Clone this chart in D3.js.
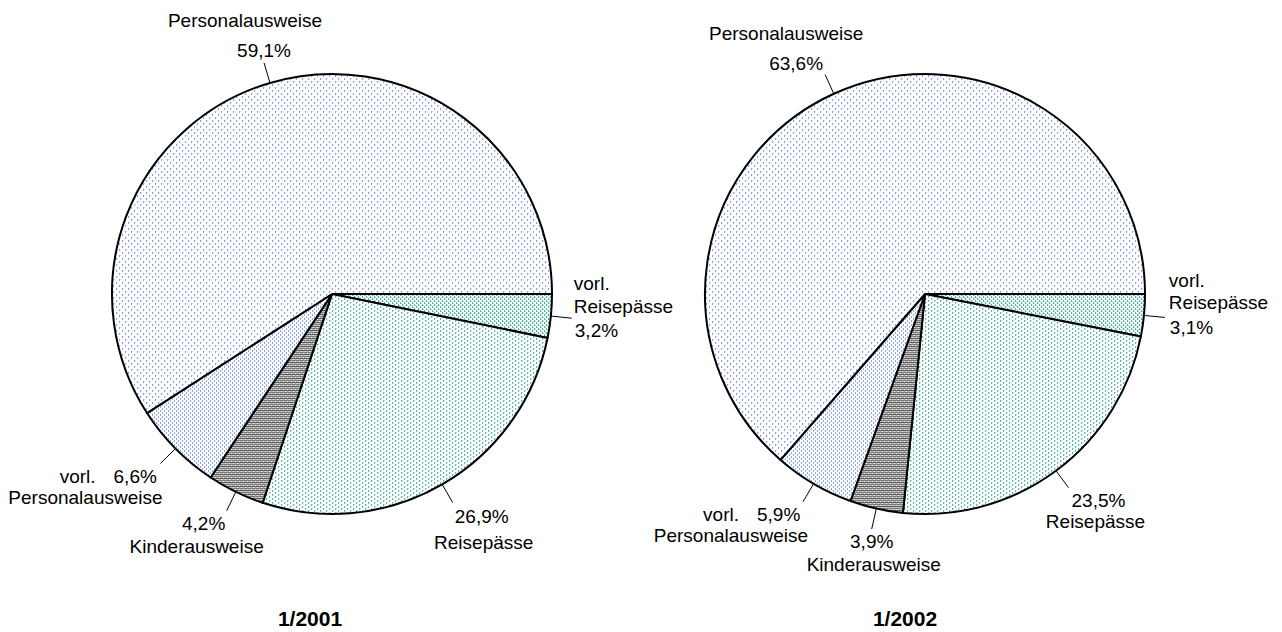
<!DOCTYPE html>
<html lang="de">
<head>
<meta charset="UTF-8">
<script src="https://d3js.org/d3.v7.min.js"></script>
<style>
  body { margin: 0; background: #fff; }
  svg { display: block; }
  text { font-family: "Liberation Sans", Arial, sans-serif; font-size: 19px; fill: #000; }
  .title { font-weight: bold; font-size: 21px; }
</style>
</head>
<body>
<script>
// slices in drawing order, clockwise from 3 o'clock
const categories = ["vorl. Reisepässe", "Reisepässe", "Kinderausweise", "vorl. Personalausweise", "Personalausweise"];
const values2001 = [3.2, 26.9, 4.2, 6.6, 59.1];
const values2002 = [3.1, 23.5, 3.9, 5.9, 63.6];
const titles = ["1/2001", "1/2002"];

const width = 1282, height = 632;
const radius = 220;
const leaderLen = 21;

const pies = [
  { values: values2001, title: titles[0], cx: 332, cy: 294, tx: 310,
    // text offsets from leader end: [line, dx, dy, anchor]
    labels: [
      [["vorl.", 2, -28, "start"], ["Reisepässe", 2, -5, "start"], ["%", 3, 19, "start"]],
      [["%", 29, 20, "middle"], ["Reisepässe", 31, 46, "middle"]],
      [["%", -23, 19, "middle"], ["Kinderausweise", -30, 42, "middle"]],
      [["vorl.", -65, 20, "end"], ["%", -47, 20, "start"], ["Personalausweise", 2, 41, "end"]],
      [["%", 0, -6, "middle"], ["Personalausweise", -19, -36, "middle"]]
    ] },
  { values: values2002, title: titles[1], cx: 925, cy: 294, tx: 905,
    labels: [
      [["vorl.", 4, -30, "start"], ["Reisepässe", 4, -8, "start"], ["%", 5, 17, "start"]],
      [["%", 30, 19, "middle"], ["Reisepässe", 27, 40, "middle"]],
      [["%", 0, 19, "middle"], ["Kinderausweise", 2, 42, "middle"]],
      [["vorl.", -64, 19, "end"], ["%", -46, 19, "start"], ["Personalausweise", 5, 40, "end"]],
      [["%", -29, -5, "middle"], ["Personalausweise", -39, -35, "middle"]]
    ] }
];

const svg = d3.select("body").append("svg")
  .attr("width", width)
  .attr("height", height);

// fill patterns like the old spreadsheet export
const defs = svg.append("defs");
function pattern(id, w, h, bg, rects) {
  const p = defs.append("pattern")
    .attr("id", id)
    .attr("patternUnits", "userSpaceOnUse")
    .attr("width", w).attr("height", h);
  p.append("rect").attr("width", w).attr("height", h).attr("fill", bg);
  rects.forEach(r => {
    p.append("rect")
      .attr("x", r[0]).attr("y", r[1]).attr("width", r[2]).attr("height", r[3])
      .attr("fill", r[4]).attr("shape-rendering", "crispEdges");
  });
}
pattern("pVorlReise", 4, 4, "#fff", [
  [0, 0, 1, 2, "#4fb3a6"], [1, 1, 1, 1, "#a5dad2"], [2, 2, 1, 2, "#4fb3a6"], [3, 3, 1, 1, "#a5dad2"], [1, 3, 1, 1, "#cdeae5"]
]);
pattern("pReise", 6, 4, "#fff", [
  [0, 0, 1, 2, "#5fbab0"], [1, 0, 1, 1, "#b3e0d9"], [3, 2, 1, 2, "#5fbab0"], [4, 2, 1, 1, "#b3e0d9"]
]);
pattern("pKinder", 4, 4, "#b8b8b8", [
  [0, 0, 4, 1, "#5a5a5a"], [0, 2, 4, 1, "#7a7a7a"], [1, 1, 1, 1, "#eeeeee"], [3, 3, 1, 1, "#eeeeee"]
]);
pattern("pVorlPers", 4, 4, "#fff", [
  [0, 0, 1, 2, "#8ea7e6"], [1, 0, 1, 1, "#dbe3f8"], [2, 2, 1, 2, "#8ea7e6"]
]);
pattern("pPers", 6, 6, "#fff", [
  [0, 0, 1, 2, "#8aa3e4"], [1, 0, 1, 1, "#d3ddf7"], [3, 3, 1, 2, "#8aa3e4"], [4, 3, 1, 1, "#d3ddf7"]
]);
const fills = d3.scaleOrdinal()
  .domain(categories)
  .range(["url(#pVorlReise)", "url(#pReise)", "url(#pKinder)", "url(#pVorlPers)", "url(#pPers)"]);

const pie = d3.pie()
  .sort(null)
  .value(d => d)
  .startAngle(Math.PI / 2)
  .endAngle(Math.PI / 2 + 2 * Math.PI);

const arc = d3.arc().innerRadius(0).outerRadius(radius);

const fmt = v => v.toFixed(1).replace(".", ",") + "%";

pies.forEach(cfg => {
  const g = svg.append("g").attr("transform", `translate(${cfg.cx},${cfg.cy})`);
  const arcs = pie(cfg.values);

  g.selectAll("path")
    .data(arcs)
    .enter().append("path")
    .attr("d", arc)
    .attr("fill", (d, i) => fills(categories[i]))
    .attr("stroke", "#000")
    .attr("stroke-width", 2)
    .attr("stroke-linejoin", "round");

  arcs.forEach((d, i) => {
    const a = (d.startAngle + d.endAngle) / 2;
    const sx = Math.sin(a), sy = -Math.cos(a);
    const x0 = sx * radius, y0 = sy * radius;
    const x1 = sx * (radius + leaderLen), y1 = sy * (radius + leaderLen);
    g.append("line")
      .attr("x1", x0).attr("y1", y0)
      .attr("x2", x1).attr("y2", y1)
      .attr("stroke", "#000")
      .attr("stroke-width", 1);
    cfg.labels[i].forEach(l => {
      g.append("text")
        .attr("x", x1 + l[1])
        .attr("y", y1 + l[2])
        .attr("text-anchor", l[3])
        .text(l[0] === "%" ? fmt(cfg.values[i]) : l[0]);
    });
  });

  svg.append("text")
    .attr("class", "title")
    .attr("x", cfg.tx)
    .attr("y", 626)
    .attr("text-anchor", "middle")
    .text(cfg.title);
});
</script>
</body>
</html>
